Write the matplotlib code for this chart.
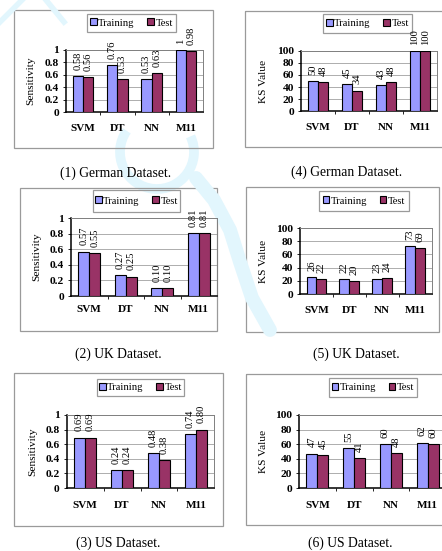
import matplotlib
matplotlib.use('Agg')
import matplotlib.pyplot as plt
from matplotlib.patches import Rectangle, Arc

plt.rcParams['font.family'] = ['Liberation Serif', 'DejaVu Serif']

W, H = 442, 551

models = ['SVM', 'DT', 'NN', 'M11']
series_names = ['Training', 'Test']

german_sens_train = [0.58, 0.76, 0.53, 1.0]
german_sens_test = [0.56, 0.53, 0.63, 0.98]
uk_sens_train = [0.57, 0.27, 0.10, 0.81]
uk_sens_test = [0.55, 0.25, 0.10, 0.81]
us_sens_train = [0.69, 0.24, 0.48, 0.74]
us_sens_test = [0.69, 0.24, 0.38, 0.80]

german_ks_train = [50, 45, 43, 100]
german_ks_test = [48, 34, 48, 100]
uk_ks_train = [26, 22, 23, 73]
uk_ks_test = [22, 20, 24, 69]
us_ks_train = [47, 55, 60, 62]
us_ks_test = [45, 41, 48, 60]

sens_ticks = [0, 0.2, 0.4, 0.6, 0.8, 1]
sens_ticklabels = ['0', '0.2', '0.4', '0.6', '0.8', '1']
ks_ticks = [0, 20, 40, 60, 80, 100]
ks_ticklabels = ['0', '20', '40', '60', '80', '100']

captions = ['(1) German Dataset.', '(2) UK Dataset.', '(3) US Dataset.',
            '(4) German Dataset.', '(5) UK Dataset.', '(6) US Dataset.']

C_TRAIN = '#9999ff'
C_TEST = '#993366'
WM = '#e2f6fd'


def sens_fmt(v):
    return '1' if v >= 1 else f'{v:.2f}'


def ks_fmt(v):
    return str(v)


# panel geometry in pixels: frame box, plot area, legend box, caption, ylabel x, xtick pad
panels = [
    dict(box=(14, 10, 213, 148), ax=(66, 50, 203, 112), leg=(87, 14, 176, 32),
         cap=(116, 173), ylx=31, pad=8.5),
    dict(box=(20, 188, 217, 331), ax=(71, 218, 217, 296), leg=(93, 190, 180, 212),
         cap=(118, 354), ylx=37, pad=6.5),
    dict(box=(14, 373, 223, 526), ax=(66.5, 415, 214.5, 488), leg=(97, 379, 184, 396),
         cap=(118, 543), ylx=33, pad=9.5),
    dict(box=(245, 11, 460, 147), ax=(301, 51, 437, 111), leg=(323, 14, 412, 33),
         cap=(347, 172), ylx=264, pad=8.5),
    dict(box=(246, 187, 439, 332), ax=(300, 228, 431.5, 294), leg=(319, 191, 409, 211),
         cap=(356, 354), ylx=264, pad=8.5),
    dict(box=(246, 374, 460, 525), ax=(299, 415, 446, 488), leg=(329, 378, 417, 397),
         cap=(350, 543), ylx=263, pad=9),
]

data = [
    (german_sens_train, german_sens_test, 'Sensitivity', 1, sens_ticks, sens_ticklabels, sens_fmt),
    (uk_sens_train, uk_sens_test, 'Sensitivity', 1, sens_ticks, sens_ticklabels, sens_fmt),
    (us_sens_train, us_sens_test, 'Sensitivity', 1, sens_ticks, sens_ticklabels, sens_fmt),
    (german_ks_train, german_ks_test, 'KS Value', 100, ks_ticks, ks_ticklabels, ks_fmt),
    (uk_ks_train, uk_ks_test, 'KS Value', 100, ks_ticks, ks_ticklabels, ks_fmt),
    (us_ks_train, us_ks_test, 'KS Value', 100, ks_ticks, ks_ticklabels, ks_fmt),
]

fig = plt.figure(figsize=(W / 100, H / 100), dpi=100)

# background layer in pixel coordinates: watermark, frames, legend boxes
bg = fig.add_axes([0, 0, 1, 1], zorder=-10)
bg.set_xlim(0, W)
bg.set_ylim(H, 0)
bg.axis('off')

bg.add_patch(Arc((157, 152), 74, 74, theta1=-25, theta2=215, color=WM, lw=7))
bg.plot([196, 214, 230, 240, 252, 270], [178, 200, 230, 262, 298, 330], color=WM, lw=10,
        solid_capstyle='round')
bg.plot([0, 22], [22, 0], color=WM, lw=4)
bg.plot([46, 64], [0, 22], color=WM, lw=4)

for p in panels:
    l, t, r, b = p['box']
    bg.add_patch(Rectangle((l, t), r - l, b - t, fill=False, ec='#9a9a9a', lw=0.9))
    l, t, r, b = p['leg']
    bg.add_patch(Rectangle((l, t), r - l, b - t, fill=False, ec='#9a9a9a', lw=0.9))


def px_rect(l, t, r, b):
    return [l / W, 1 - b / H, (r - l) / W, (b - t) / H]


x = list(range(len(models)))
bw = 0.3

for k, (p, (train, test, ylabel, ymax, ticks, ticklabels, fmt)) in enumerate(zip(panels, data)):
    ax = fig.add_axes(px_rect(*p['ax']))
    ax.set_facecolor('none')
    b1 = ax.bar([i + 0.5 - bw / 2 for i in x], train, bw, color=C_TRAIN,
                edgecolor='black', lw=0.8, zorder=3, label=series_names[0])
    b2 = ax.bar([i + 0.5 + bw / 2 for i in x], test, bw, color=C_TEST,
                edgecolor='black', lw=0.8, zorder=3, label=series_names[1])
    for bars, vals in ((b1, train), (b2, test)):
        for rect, v in zip(bars, vals):
            ax.annotate(fmt(v), (rect.get_x() + rect.get_width() / 2, v),
                        xytext=(0, 4.5), textcoords='offset points',
                        rotation=90, ha='center', va='bottom', fontsize=7.6,
                        annotation_clip=False)

    ax.set_xlim(0, 4)
    ax.set_ylim(0, ymax)
    ax.set_yticks(ticks)
    ax.set_yticklabels(ticklabels)
    ax.set_xticks([i + 0.5 for i in x])
    ax.set_xticklabels(models)
    ax.set_xticks([1, 2, 3], minor=True)
    ax.tick_params(axis='x', which='major', length=0, pad=p['pad'], labelsize=8)
    ax.tick_params(axis='x', which='minor', length=2.5, width=0.6, direction='out')
    ax.tick_params(axis='y', length=2.5, width=0.6, pad=2.5, labelsize=8.2)
    for lab in ax.get_xticklabels() + ax.get_yticklabels():
        lab.set_fontweight('bold')
    ax.grid(axis='y', color='#a0a0a0', lw=0.6, zorder=0)
    for s in ('top', 'right'):
        ax.spines[s].set_color('#808080')
        ax.spines[s].set_linewidth(0.7)
    for s in ('left', 'bottom'):
        ax.spines[s].set_linewidth(1.1)

    l, t, r, b = p['ax']
    fig.text(p['ylx'] / W, 1 - (t + b) / 2 / H, ylabel, rotation=90,
             ha='center', va='center', fontsize=8.2)

    l, t, r, b = p['leg']
    ax.legend(handles=[b1, b2], loc='center',
              bbox_to_anchor=((l + r) / 2 / W, 1 - (t + b) / 2 / H),
              bbox_transform=fig.transFigure, frameon=False, ncol=2,
              fontsize=7.6, handlelength=0.6, handleheight=0.6,
              handletextpad=0.15, columnspacing=1.2, borderpad=0)

    cx, cy = p['cap']
    fig.text(cx / W, 1 - cy / H, captions[k], ha='center',
             va='center', fontsize=9.8)

fig.savefig('out.png', dpi=100)
